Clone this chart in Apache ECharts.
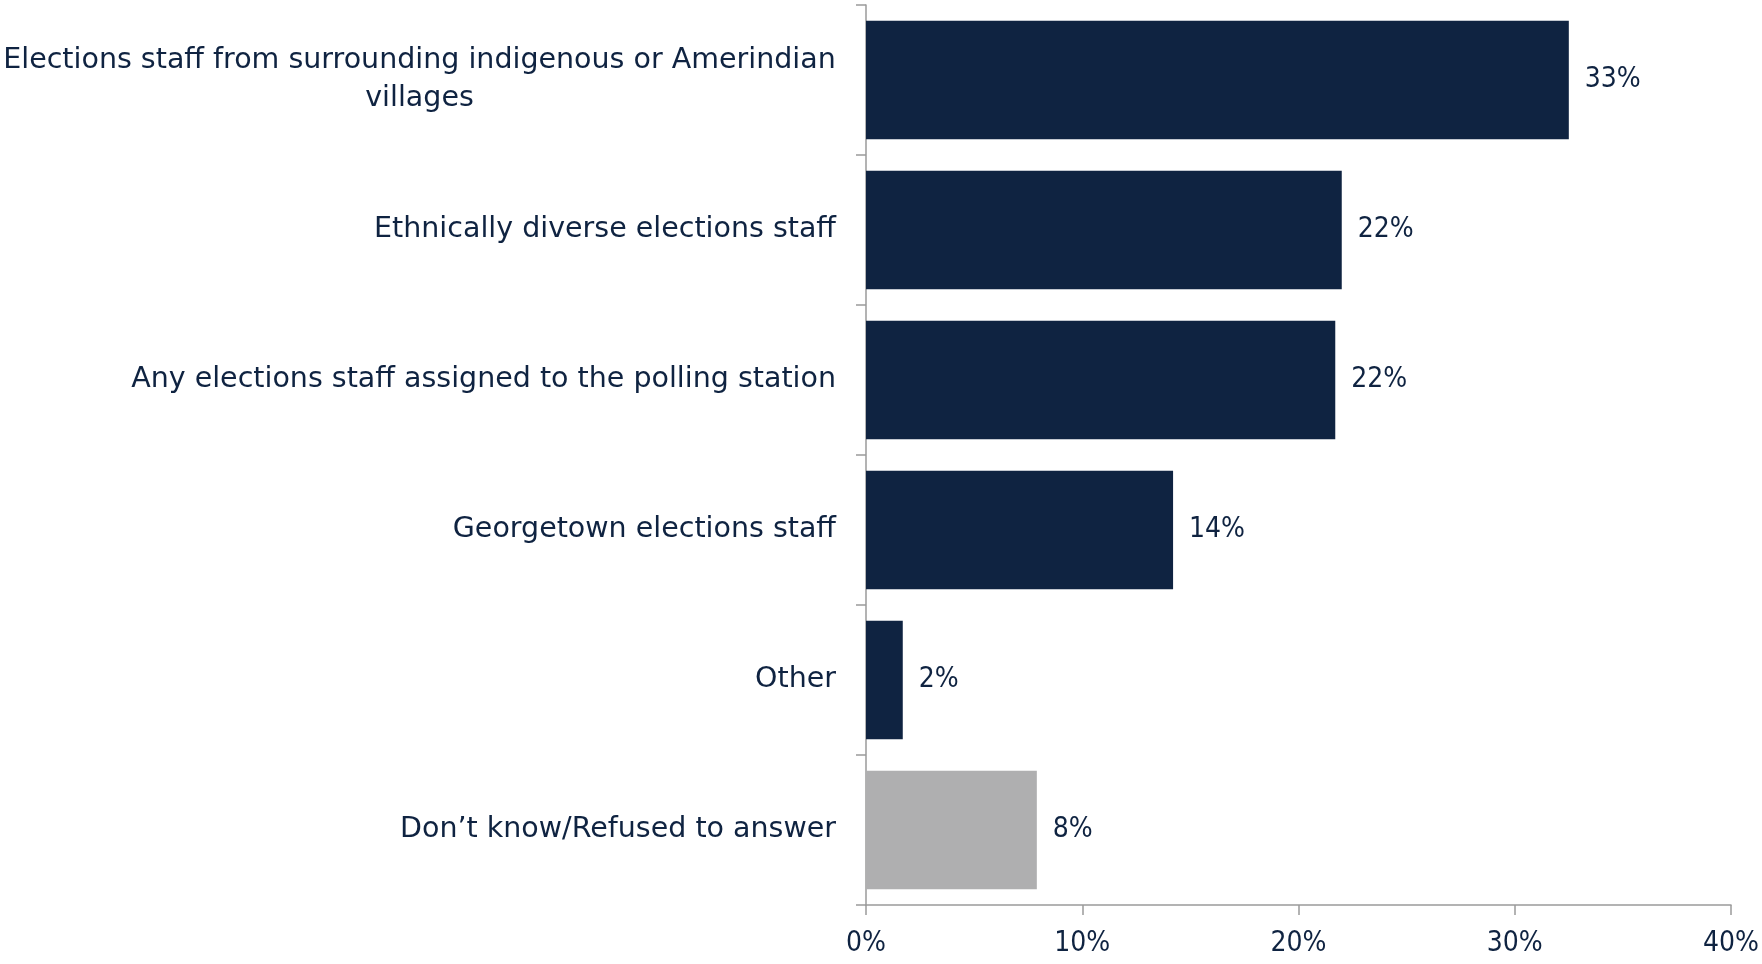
<!DOCTYPE html>
<html>
<head>
<meta charset="utf-8">
<script src="https://cdn.jsdelivr.net/npm/echarts@6/dist/echarts.min.js"></script>
<style>html,body{margin:0;padding:0;background:#fff}#c{width:1762px;height:964px}</style>
</head>
<body>
<div id="c"></div>
<script>
const categories = [
  "Elections staff from surrounding indigenous or Amerindian\nvillages",
  "Ethnically diverse elections staff",
  "Any elections staff assigned to the polling station",
  "Georgetown elections staff",
  "Other",
  "Don\u2019t know/Refused to answer"
];
const values = [32.5, 22.0, 21.7, 14.2, 1.7, 7.9];
const valueLabels = ["33%", "22%", "22%", "14%", "2%", "8%"];
const tickLabels = ["0%", "10%", "20%", "30%", "40%"];
const NAVY = "#0f2341", GREY = "#afafb0";
const barColors = [NAVY, NAVY, NAVY, NAVY, NAVY, GREY];

const CAT_FONT = '"DejaVu Sans", "Noto Sans", sans-serif';
const CAT_SIZE = 28.5;
const NUM_FONT = '"Liberation Sans Narrow", "DejaVu Sans Condensed", sans-serif';

// measure the longest line of the wrapped label so its lines can be centred on each other
const mctx = document.createElement('canvas').getContext('2d');
mctx.font = CAT_SIZE + 'px ' + CAT_FONT;
const blockW = Math.ceil(Math.max(...categories[0].split('\n').map(l => mctx.measureText(l).width)));

const chart = echarts.init(document.getElementById('c'), null, {renderer: 'canvas'});
chart.setOption({
  animation: false,
  backgroundColor: '#ffffff',
  grid: {left: 864, right: 30, top: 5, bottom: 59, containLabel: false},
  xAxis: {
    type: 'value', min: 0, max: 40, interval: 10,
    axisLine: {show: true, lineStyle: {color: '#9a9a9a', width: 1.5}},
    axisTick: {show: true, length: 10, lineStyle: {color: '#9a9a9a', width: 1.5}},
    splitLine: {show: false},
    axisLabel: {
      margin: 25, color: '#0f2341', fontSize: 28,
      fontFamily: NUM_FONT,
      formatter: (v) => tickLabels[Math.round(v / 10)]
    }
  },
  yAxis: {
    type: 'category', inverse: true, data: categories,
    axisLine: {show: true, lineStyle: {color: '#9a9a9a', width: 1.5}},
    axisTick: {show: true, length: 10, lineStyle: {color: '#9a9a9a', width: 1.5}},
    axisLabel: {
      margin: 30, color: '#0f2341', fontSize: CAT_SIZE, lineHeight: 38, align: 'right',
      fontFamily: CAT_FONT,
      formatter: (name) => {
        const lines = name.split('\n');
        if (lines.length === 1) return name;
        return lines.map(l => '{m|' + l + '}').join('\n');
      },
      rich: {
        m: {width: blockW, align: 'center', fontSize: CAT_SIZE, lineHeight: 38,
            fontFamily: CAT_FONT, color: '#0f2341'}
      }
    }
  },
  series: [{
    type: 'bar',
    barCategoryGap: '21%',
    data: values.map((v, i) => ({value: v, itemStyle: {color: barColors[i]}})),
    label: {
      show: true, position: 'right', distance: 16,
      color: '#0f2341', fontSize: 28,
      fontFamily: NUM_FONT,
      formatter: (p) => valueLabels[p.dataIndex]
    }
  }]
});
</script>
</body>
</html>
